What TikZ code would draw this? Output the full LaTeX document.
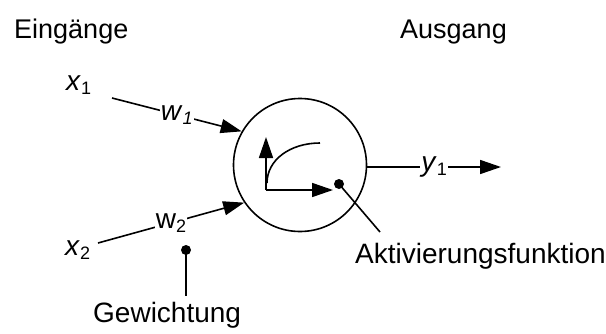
\documentclass[tikz,border=0pt]{standalone}
\usepackage{fontspec}
\setmainfont{Liberation Sans}
\usetikzlibrary{arrows.meta}
\newcommand{\lowsub}[1]{\raisebox{-4pt}{\fontsize{18}{18}\selectfont #1}}
\begin{document}
\begin{tikzpicture}[x=1pt,y=-1pt,
  every node/.style={font=\fontsize{28}{32}\selectfont, inner sep=1pt},
  wire/.style={line width=1.6pt},
  tip/.style={-{Triangle[length=21pt,width=14pt]}},
  lbl/.style={fill=white, inner sep=1pt},
  dotmark/.style={circle, fill=black, inner sep=0pt, minimum size=10pt}]
\useasboundingbox (0,0) rectangle (606,333);

% headings
\node[anchor=base west, font=\fontsize{27}{30}\selectfont] (ein) at (13,38) {Eingänge};
\node[anchor=base west, font=\fontsize{27}{30}\selectfont] (aus) at (399,38) {Ausgang};

% neuron
\node[circle, draw, line width=1.6pt, minimum size=133pt, inner sep=0pt] (n) at (300,165) {};

% inputs
\node[anchor=base west] (x1) at (65,90) {\textit{x}\lowsub{1}};
\node[anchor=base west] (x2) at (64,255) {\textit{x}\lowsub{2}};
\coordinate (x1s) at (112,98);
\coordinate (x2s) at (98,243);
\draw[wire, tip] (x1s) -- node[lbl, pos=0.5] (w1) {\textit{w}\lowsub{\textit{1}}} (n.150);
\draw[wire, tip] (x2s) -- node[lbl, pos=0.5] (w2) {w\lowsub{2}} (n.214);

% weight annotation
\node[dotmark] (gdot) at (186,250) {};
\coordinate (gend) at (186,296);
\draw[wire] (gdot.center) -- (gend);
\node[anchor=base west] (gew) at (92,322) {Gewichtung};

% activation function sketch inside the neuron
\coordinate (o) at (266,190);
\coordinate (ytop) at (266,137);
\coordinate (xright) at (333,190);
\draw[wire, tip] (o) -- (ytop);
\draw[wire, tip] (o) -- (xright);
\coordinate (cs) at (267,183);
\coordinate (ce) at (320,143);
\draw[wire] (cs) .. controls (267,160) and (290,143) .. (ce);

% activation annotation
\node[dotmark] (adot) at (339,184) {};
\coordinate (aend) at (380,232);
\draw[wire] (adot.center) -- (aend);
\node[anchor=base west] (akt) at (354,263) {Aktivierungsfunktion};

% output
\coordinate (yout) at (501,167);
\draw[wire, tip] (n.east |- yout) -- node[lbl, pos=0.5] (y1) {\textit{y}\lowsub{1}} (yout);
\end{tikzpicture}
\end{document}
